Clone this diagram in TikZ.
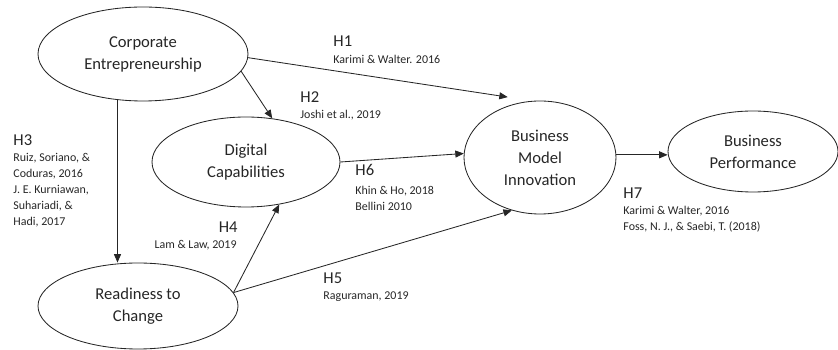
\documentclass[tikz,border=0pt]{standalone}
\usepackage{fontspec}
\setmainfont{Carlito}
\usetikzlibrary{shapes.geometric,arrows.meta}
\tikzstyle{every node}=[inner sep=0pt,text=black!85]
\tikzstyle{construct}=[draw=black!85,shape=ellipse,align=center,font=\fontsize{11.8}{15.6}\selectfont]
\tikzstyle{hyp}=[anchor=west,font=\fontsize{11.8}{14}\selectfont]
\tikzstyle{cite}=[anchor=west,align=left,font=\fontsize{8.5}{11.4}\selectfont]
\tikzstyle{link}=[draw=black!85,-{Triangle[length=6pt,width=5pt]}]

\begin{document}
\begin{tikzpicture}[line width=0.6pt]
	\useasboundingbox (0,0) rectangle (20.95,8.75);
	% the five constructs
	\node[construct,minimum width=5.25cm,minimum height=2.35cm] (ce) at (3.575,7.40) {Corporate\\Entrepreneurship};
	\node[construct,minimum width=4.7cm,minimum height=2.25cm] (dc) at (6.15,4.70) {Digital\\Capabilities};
	\node[construct,minimum width=5.0cm,minimum height=2.15cm] (rc) at (3.45,1.10) {Readiness to\\Change};
	\node[construct,minimum width=3.8cm,minimum height=2.825cm] (bmi) at (13.5,4.8125) {Business\\Model\\Innovation};
	\node[construct,minimum width=4.25cm,minimum height=2.025cm] (bp) at (18.825,4.9625) {Business\\Performance};
	% hypothesised paths
	\draw[link] (ce.-2) -- ([yshift=0.22cm]bmi.122);
	\draw[link] (ce.-10) -- (dc.59);
	\draw[link] (ce.241) -- (ce.241 |- rc.north);
	\draw[link] (rc.8) -- (dc.-52);
	\draw[link] (rc.8) -- (bmi.-118);
	\draw[link] (dc.east) -- (bmi.177);
	\draw[link] (bmi.2) -- (bmi.2 -| bp.west);
	% hypotheses and sources
	\node[hyp] (h1) at (8.325,7.725) {H1};
	\node[cite] (h1src) at (8.325,7.275) {Karimi \& Walter. 2016};
	\node[hyp] (h2) at (7.5,6.325) {H2};
	\node[cite] (h2src) at (7.5,5.875) {Joshi et al., 2019};
	\node[hyp] (h3) at (0.325,5.25) {H3};
	\node[cite] (h3src) at (0.325,3.9875) {Ruiz, Soriano, \&\\Coduras, 2016\\J. E. Kurniawan,\\Suhariadi, \&\\Hadi, 2017};
	\node[hyp,anchor=east] (h4) at (5.95,3.075) {H4};
	\node[cite,anchor=east] (h4src) at (5.925,2.625) {Lam \& Law, 2019};
	\node[hyp] (h5) at (8.075,1.8) {H5};
	\node[cite] (h5src) at (8.075,1.325) {Raguraman, 2019};
	\node[hyp] (h6) at (8.875,4.5) {H6};
	\node[cite] (h6src) at (8.875,3.7875) {Khin \& Ho, 2018\\Bellini 2010};
	\node[hyp] (h7) at (15.575,3.925) {H7};
	\node[cite] (h7src) at (15.575,3.2625) {Karimi \& Walter, 2016\\Foss, N. J., \& Saebi, T. (2018)};
\end{tikzpicture}
\end{document}
